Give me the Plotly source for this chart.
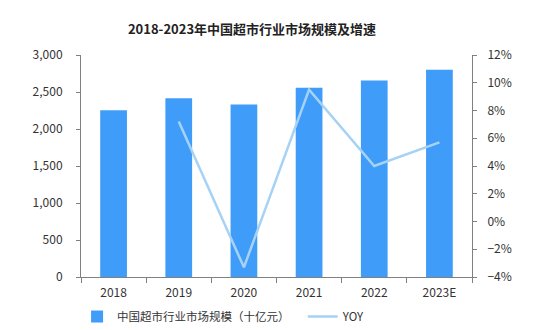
import plotly.graph_objects as go

years = ["2018", "2019", "2020", "2021", "2022", "2023E"]
market_size = [2254, 2416, 2331, 2557, 2655, 2800]
yoy = [None, 7.2, -3.3, 9.5, 4.0, 5.7]

bar_name = "中国超市行业市场规模（十亿元）"
line_name = "YOY"
title_text = "2018-2023年中国超市行业市场规模及增速"

font_family = "Noto Sans CJK SC, Noto Sans, sans-serif"
axis_color = "#808080"
text_color = "#333333"

fig = go.Figure()
fig.add_trace(go.Bar(
    x=years, y=market_size, name=bar_name,
    marker=dict(color="#3f9cf8", line=dict(width=0)),
    width=0.41, yaxis="y", legend="legend",
))
fig.add_trace(go.Scatter(
    x=years, y=yoy, name=line_name, mode="lines",
    line=dict(color="#a6d2f5", width=2.5),
    yaxis="y2", legend="legend2",
))

legend_common = dict(orientation="h", xanchor="left", y=-0.178, yanchor="middle",
                     font=dict(size=11.5, color=text_color, family=font_family),
                     bgcolor="rgba(0,0,0,0)")

fig.update_layout(
    width=550, height=330,
    margin=dict(l=81, r=78, t=55, b=52.5, pad=0, autoexpand=False),
    paper_bgcolor="white", plot_bgcolor="white",
    font=dict(family=font_family, size=12, color=text_color),
    title=dict(text="<b>" + title_text + "</b>", x=252 / 550, xref="container",
               xanchor="center", y=1 - 29 / 330, yanchor="middle",
               font=dict(size=13, color="#222222", family=font_family)),
    showlegend=True,
    legend=dict(x=-0.01, **legend_common),
    legend2=dict(x=0.567, **legend_common),
    bargap=0.59,
    xaxis=dict(
        type="category", showgrid=False, showline=True, linecolor=axis_color, linewidth=1,
        ticks="outside", tickson="boundaries", ticklen=5, tickcolor=axis_color,
        tickfont=dict(size=12, color=text_color), zeroline=False, ticklabelstandoff=5,
    ),
    yaxis=dict(
        range=[0, 3000], dtick=500, tickformat=",", showgrid=False,
        showline=True, linecolor=axis_color, linewidth=1,
        ticks="outside", ticklen=4, tickcolor=axis_color, zeroline=False,
        tickfont=dict(size=12, color=text_color), ticklabelstandoff=11,
    ),
    yaxis2=dict(
        range=[-4, 12], dtick=2, ticksuffix="%", overlaying="y", side="right",
        showgrid=False, showline=True, linecolor=axis_color, linewidth=1,
        ticks="outside", ticklen=4, tickcolor=axis_color, zeroline=False,
        tickfont=dict(size=12, color=text_color), ticklabelstandoff=8,
    ),
)

fig.write_html("out.html")
